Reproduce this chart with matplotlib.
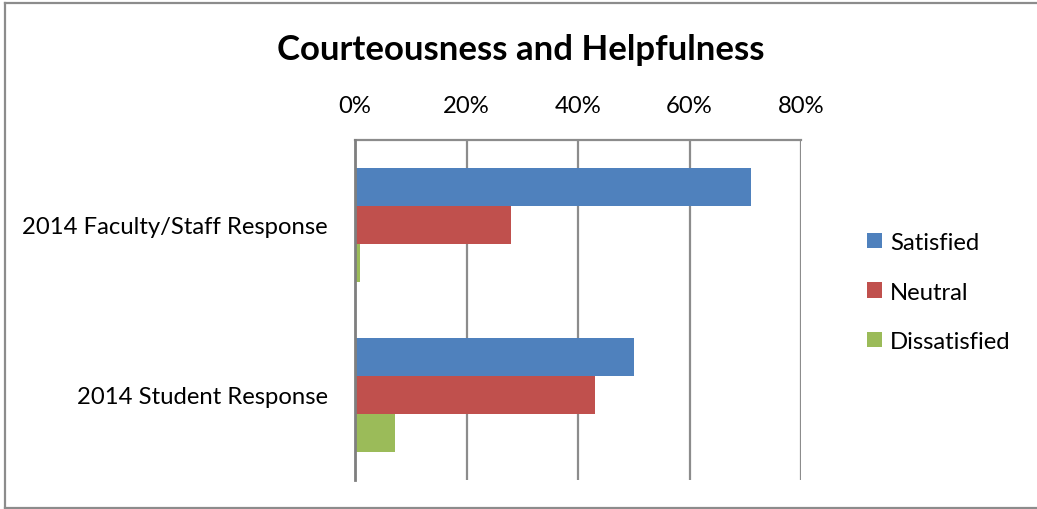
import matplotlib
matplotlib.use("Agg")
import matplotlib.pyplot as plt
from matplotlib.patches import Patch
from matplotlib.lines import Line2D
import numpy as np

categories = ["2014 Faculty/Staff Response", "2014 Student Response"]
series = ["Satisfied", "Neutral", "Dissatisfied"]
satisfied = [71, 50]
neutral = [28, 43]
dissatisfied = [0.9, 7.2]
colors = ["#4F81BD", "#C0504D", "#9BBB59"]
xticks = [0, 20, 40, 60, 80]
xtick_labels = ["0%", "20%", "40%", "60%", "80%"]

plt.rcParams['font.family'] = ['Lato', 'DejaVu Sans']

fig = plt.figure(figsize=(10.37, 5.10), dpi=100)
ax = fig.add_axes([355/1037, 1-481/510, 446/1037, 340/510])

y = np.arange(len(categories))
h = 0.222
for i, (vals, c, name) in enumerate(zip([satisfied, neutral, dissatisfied], colors, series)):
    ax.barh(y + (i-1)*h, vals, height=h, color=c, label=name, zorder=3)

ax.set_xlim(0, 80)
ax.set_ylim(1.5, -0.5)
ax.set_xticks(xticks)
ax.set_xticklabels(xtick_labels)
ax.set_yticks(y)
ax.set_yticklabels(categories)
ax.xaxis.tick_top()
ax.tick_params(axis='x', length=0, pad=17, labelsize=17.2)
ax.tick_params(axis='y', length=0, pad=19.5, labelsize=17.2)
ax.grid(axis='x', color='#8C8C8C', linewidth=1.6, zorder=1)
for s in ['right', 'bottom']:
    ax.spines[s].set_visible(False)
ax.spines['top'].set_color('#8C8C8C')
ax.spines['top'].set_linewidth(1.6)
ax.spines['left'].set_color('#7F7F7F')
ax.spines['left'].set_linewidth(2)
ax.spines['left'].set_zorder(4)

fig.text(0.5 * (279+762)/1037, 1-50/510, "Courteousness and Helpfulness", ha='center', va='center',
         fontsize=25, fontweight='bold')

handles = [Patch(facecolor=c, edgecolor='none') for c in colors]
leg = fig.legend(handles, series, loc='center left', bbox_to_anchor=(867/1037, 1-293/510),
                 frameon=False, fontsize=17.2, handlelength=0.62, handleheight=0.62,
                 handletextpad=0.35, labelspacing=1.2, borderaxespad=0, borderpad=0)

# outer border
fig.add_artist(Line2D([4.5/1037, 4.5/1037], [1-508.5/510, 1-3.5/510], color='#8C8C8C', lw=1.6, transform=fig.transFigure))
fig.add_artist(Line2D([4.5/1037, 1], [1-3.5/510, 1-3.5/510], color='#8C8C8C', lw=1.6, transform=fig.transFigure))
fig.add_artist(Line2D([4.5/1037, 1], [1-508.5/510, 1-508.5/510], color='#8C8C8C', lw=1.6, transform=fig.transFigure))

fig.savefig("out.png", dpi=100)
